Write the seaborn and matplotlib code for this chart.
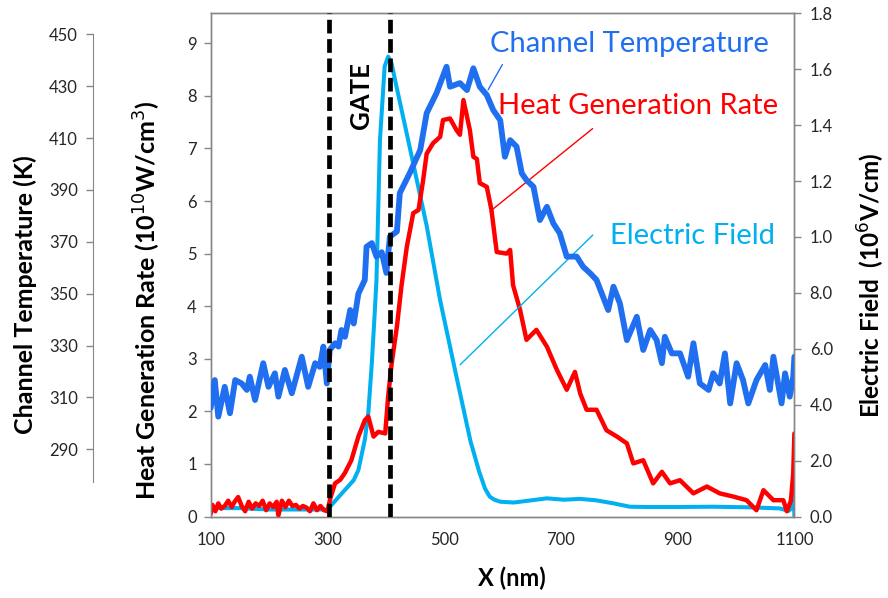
import matplotlib
matplotlib.use("Agg")
import matplotlib.pyplot as plt
import seaborn as sns
import pandas as pd
import numpy as np

# ---------------- data ----------------
x_temp = [100, 107, 113, 124, 133, 142, 153, 162, 167, 176, 190, 199, 210, 216, 227, 239, 256,
          267, 279, 287, 293, 299, 304, 313, 319, 324, 330, 339, 345, 353, 364, 367, 376, 384,
          393, 401, 407, 419, 424, 441, 459, 470, 487, 504, 510, 527, 539, 550, 561, 573, 584,
          596, 604, 613, 624, 633, 641, 653, 664, 676, 687, 698, 710, 727, 738, 750, 761, 781,
          790, 801, 813, 830, 841, 853, 864, 873, 878, 890, 904, 918, 927, 938, 953, 961, 972,
          981, 990, 1001, 1012, 1021, 1035, 1050, 1058, 1064, 1078, 1084, 1092, 1098, 1100]
temperature = [306, 316.7, 302.6, 314.1, 303.9, 316.7, 315.4, 312.9, 318, 309, 323.2, 314.1, 319.3,
               310.3, 320.6, 311.6, 325.7, 314.1, 323.2, 321.8, 329.6, 315.4, 328.3, 330.9, 329.6,
               336, 333.4, 343.7, 338.5, 350, 355.3, 368.1, 369.5, 364.3, 366, 358, 372, 374,
               388.8, 396.5, 405.4, 419.6, 427.4, 437.5, 429.8, 431.2, 428.5, 436.9, 429.8, 426.6,
               420.8, 416.9, 402.8, 409.2, 406.7, 396.4, 393.8, 391.2, 378.4, 383.5, 377.1, 373.3,
               364.3, 364.3, 360.4, 357.9, 355.3, 343.7, 352.7, 346.3, 332.1, 341.1, 328.3, 336,
               332.1, 323.2, 333.4, 327, 327, 318, 330.9, 315.4, 312.9, 319.3, 315.4, 327, 307.7,
               323.2, 316.7, 307.7, 316.7, 322.5, 312.9, 325.7, 307.7, 319.3, 310.3, 318, 325.7]

x_heat = [100, 103, 108, 113, 118, 124, 130, 136, 141, 147, 153, 159, 165, 171, 177, 183, 189, 195,
          201, 207, 213, 216, 222, 228, 234, 240, 246, 252, 258, 264, 270, 276, 282, 288, 294, 300,
          305, 313, 322, 330, 341, 353, 364, 370, 379, 387, 399, 404, 410, 419, 427, 436, 447, 456,
          464, 470, 481, 493, 498, 510, 521, 527, 533, 544, 550, 556, 561, 573, 581, 590, 607, 613,
          618, 630, 641, 658, 676, 693, 710, 724, 733, 744, 761, 778, 796, 813, 824, 841, 858, 873,
          887, 904, 927, 950, 972, 995, 1018, 1035, 1047, 1064, 1081, 1087, 1094, 1098, 1100]
heat = [0.05, 0.22, 0.1, 0.25, 0.15, 0.2, 0.3, 0.18, 0.28, 0.37, 0.2, 0.1, 0.28, 0.15, 0.25, 0.2,
        0.3, 0.12, 0.25, 0.18, 0.28, 0.02, 0.3, 0.18, 0.3, 0.2, 0.22, 0.15, 0.2, 0.17, 0.1, 0.25,
        0.12, 0.2, 0.12, 0.1, 0.35, 0.63, 0.7, 0.83, 1.07, 1.52, 1.83, 1.9, 1.52, 1.61, 1.58, 2.28,
        2.91, 3.61, 4.4, 5.13, 5.77, 5.83, 6.4, 6.9, 7.1, 7.22, 7.54, 7.57, 7.35, 7.26, 7.92, 7.35,
        6.84, 6.8, 6.34, 6.27, 5.83, 5.03, 5.0, 5.07, 4.4, 3.93, 3.36, 3.55, 3.23, 2.79, 2.41, 2.75,
        2.34, 2.03, 2.03, 1.64, 1.52, 1.39, 1.01, 1.07, 0.63, 0.85, 0.63, 0.69, 0.44, 0.57, 0.44,
        0.38, 0.31, 0.12, 0.5, 0.31, 0.31, 0.1, 0.3, 0.82, 1.58]

x_field = [100, 150, 200, 250, 300, 315, 330, 345, 353, 364, 370, 376, 381, 384, 390, 398, 404, 410,
           416, 440, 470, 493, 520, 545, 560, 570, 578, 586, 596, 619, 650, 676, 705, 733, 760, 790,
           818, 847, 900, 961, 1020, 1075, 1090, 1096, 1098, 1100]
field = [0.03, 0.03, 0.025, 0.025, 0.025, 0.06, 0.095, 0.13, 0.166, 0.274, 0.37, 0.548, 0.728, 0.846,
         1.347, 1.61, 1.645, 1.62, 1.56, 1.33, 1.04, 0.774, 0.51, 0.27, 0.16, 0.1, 0.071, 0.06, 0.053,
         0.05, 0.058, 0.065, 0.06, 0.063, 0.058, 0.047, 0.035, 0.034, 0.034, 0.035, 0.033, 0.029,
         0.02, 0.03, 0.15, 0.0]

gate_edges = [302, 408]
x_ticks = [100, 300, 500, 700, 900, 1100]
heat_ticks = [0, 1, 2, 3, 4, 5, 6, 7, 8, 9]
temp_ticks = [290, 310, 330, 350, 370, 390, 410, 430, 450]
field_ticks = [0.0, 0.2, 0.4, 0.6, 0.8, 1.0, 1.2, 1.4, 1.6, 1.8]
field_tick_labels = ["0.0", "2.0", "4.0", "6.0", "8.0", "1.0", "1.2", "1.4", "1.6", "1.8"]

# ---------------- style ----------------
sns.set_style("white")
FONT = ["Lato", "DejaVu Sans"]
plt.rcParams["font.family"] = FONT
GRAY = "#868686"
TICKC = "#262626"
BLUE = "#1F6FF0"
RED = "#FF0000"
CYAN = "#00B0F0"

fig = plt.figure(figsize=(8.88, 5.98), dpi=100)
L, R, T, B = 210.7 / 888, 794.4 / 888, 13.3 / 598, 516.5 / 598
ax = fig.add_axes([L, 1 - B, R - L, B - T])
ax_e = ax.twinx()
ax_t = ax.twinx()

ax_e.set_zorder(1)
ax.set_zorder(2)
ax_t.set_zorder(3)
ax.patch.set_visible(False)
ax_t.patch.set_visible(False)

df_e = pd.DataFrame({"x": x_field, "v": field})
df_h = pd.DataFrame({"x": x_heat, "v": heat})
df_t = pd.DataFrame({"x": x_temp, "v": temperature})

sns.lineplot(data=df_e, x="x", y="v", ax=ax_e, color=CYAN, lw=2.9, sort=False,
             solid_joinstyle="round", solid_capstyle="round")
sns.lineplot(data=df_h, x="x", y="v", ax=ax, color=RED, lw=3.2, sort=False,
             solid_joinstyle="round", solid_capstyle="round")
sns.lineplot(data=df_t, x="x", y="v", ax=ax_t, color=BLUE, lw=4.2, sort=False,
             solid_joinstyle="round", solid_capstyle="round")

for g in gate_edges:
    ax_t.axvline(g, color="black", lw=3.4, ls=(0, (2.9, 1.2)), zorder=10)

# axes limits
for a in (ax, ax_e, ax_t):
    a.set_xlim(100, 1100)
    a.set_xlabel("")
    a.set_ylabel("")
ax.set_ylim(0, 9.57)
ax_e.set_ylim(0, 1.8)
ax_t.set_ylim(264.1, 458.1)

ax.set_xticks(x_ticks)
ax.set_yticks(heat_ticks)
ax_e.set_yticks(field_ticks)
ax_e.set_yticklabels(field_tick_labels)
ax_t.set_yticks(temp_ticks)

# spines
for a in (ax, ax_e):
    for s in a.spines.values():
        s.set_color(GRAY)
        s.set_linewidth(1.0)
for s in ax_t.spines.values():
    s.set_visible(False)
ax_t.spines["left"].set_visible(True)
ax_t.spines["left"].set_position(("outward", 84.5))
ax_t.spines["left"].set_bounds(277.5, 450)
ax_t.spines["left"].set_color(GRAY)
ax_t.yaxis.set_ticks_position("left")
ax_t.yaxis.set_label_position("left")

tick_kw = dict(direction="out", length=5, width=1, color=GRAY, labelcolor=TICKC, labelsize=12)
ax.tick_params(axis="both", **tick_kw)
ax.tick_params(axis="x", pad=6)
ax_e.tick_params(axis="y", **tick_kw)
ax_t.tick_params(axis="y", **tick_kw, pad=6)
ax.tick_params(axis="y", pad=5)
ax_e.tick_params(axis="y", pad=6)

# axis labels
fig.text(25 / 888, 1 - 295 / 598, "Channel Temperature (K)", rotation=90, ha="center", va="center",
         fontsize=18, fontweight="bold", color="black")
fig.text(147 / 888, 1 - 300 / 598, "Heat Generation Rate (10$^{10}$W/cm$^{3}$)", rotation=90,
         ha="center", va="center", fontsize=18, fontweight="bold", color="black")
fig.text(871 / 888, 1 - 285 / 598, "Electric Field  (10$^{6}$V/cm)", rotation=90, ha="center",
         va="center", fontsize=17.5, fontweight="bold", color="black")
fig.text(512 / 888, 1 - 578 / 598, "X (nm)", ha="center", va="center", fontsize=17,
         fontweight="bold", color="black")

# GATE label
ax.text(357, 8.0, "GATE", rotation=90, ha="center", va="center", fontsize=18.5, fontweight="bold",
        color="black")

# annotations with leader lines
ax.annotate("", xy=(573, 8.07), xytext=(602, 8.64),
            arrowprops=dict(arrowstyle="-", color=BLUE, lw=1.0))
ax.text(579, 8.83, "Channel Temperature", color=BLUE, fontsize=21, ha="left", va="baseline")
ax.annotate("", xy=(575, 5.77), xytext=(758, 7.41),
            arrowprops=dict(arrowstyle="-", color=RED, lw=1.0))
ax.text(592, 7.65, "Heat Generation Rate", color=RED, fontsize=21, ha="left", va="baseline")
ax.annotate("", xy=(524, 2.85), xytext=(758, 5.39),
            arrowprops=dict(arrowstyle="-", color=CYAN, lw=1.0))
ax.text(784, 5.18, "Electric Field", color=CYAN, fontsize=21, ha="left", va="baseline")

fig.savefig("out.png", dpi=100)
